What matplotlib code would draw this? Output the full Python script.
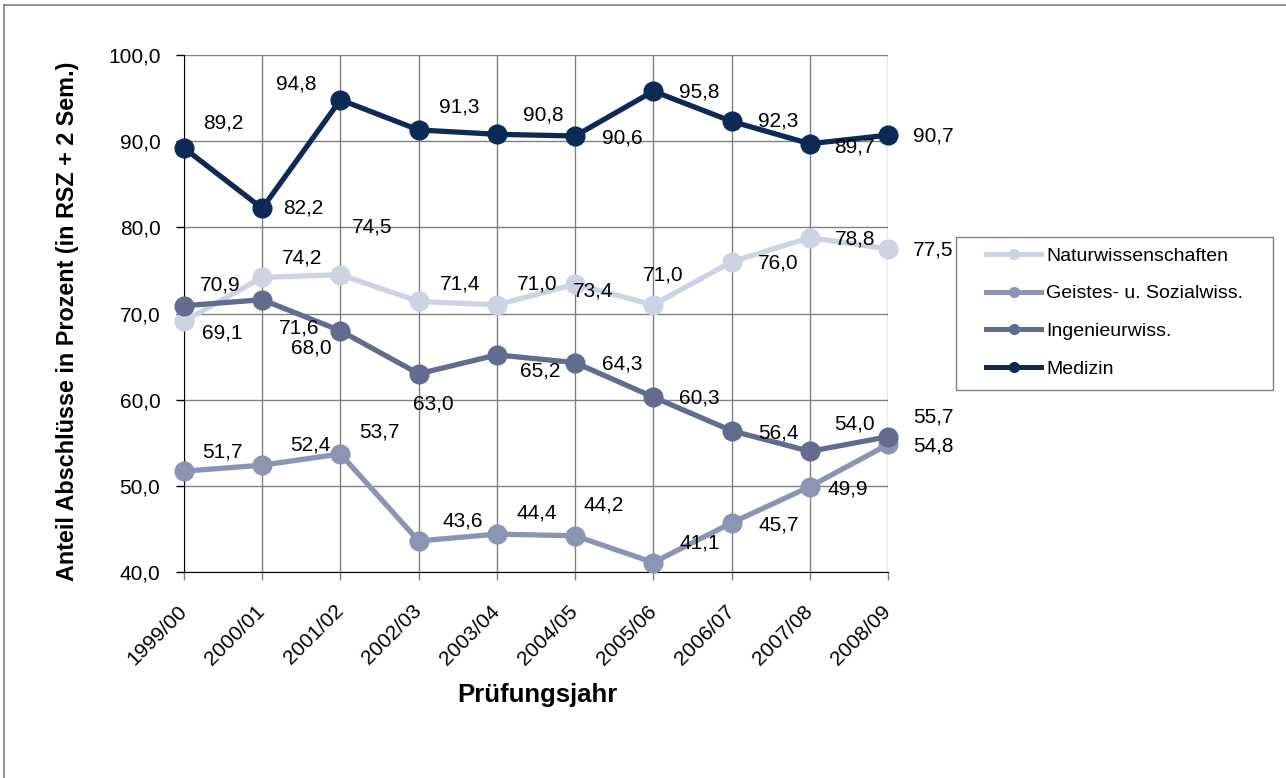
# -*- coding: utf-8 -*-
# Anteil Abschluesse nach Faechergruppen, Pruefungsjahre 1999/00 - 2008/09
import matplotlib
matplotlib.use('Agg')
import matplotlib.pyplot as plt
from matplotlib.lines import Line2D
from matplotlib.patches import Rectangle

# part 1 ---------- Daten ---------- #
years = ['1999/00', '2000/01', '2001/02', '2002/03', '2003/04',
         '2004/05', '2005/06', '2006/07', '2007/08', '2008/09']
natur = [69.1, 74.2, 74.5, 71.4, 71.0, 73.4, 71.0, 76.0, 78.8, 77.5]
geistes = [51.7, 52.4, 53.7, 43.6, 44.4, 44.2, 41.1, 45.7, 49.9, 54.8]
ingenieur = [70.9, 71.6, 68.0, 63.0, 65.2, 64.3, 60.3, 56.4, 54.0, 55.7]
medizin = [89.2, 82.2, 94.8, 91.3, 90.8, 90.6, 95.8, 92.3, 89.7, 90.7]
names = ['Naturwissenschaften', 'Geistes- u. Sozialwiss.', 'Ingenieurwiss.', 'Medizin']
####--------------End PART ONE--------------####

# part 2 ---------- Layout ---------- #
colors = ['#CDD3E3', '#8B95B3', '#636B8F', '#0C2A55']
# label offsets in pixels (dx, dy nach unten), wie im Excel-Original verschoben
off_natur = [(38, 12), (40, -19), (32, -48), (41, -17), (40, -21),
             (18, 7), (10, -30), (47, 1), (45, 1), (45, 1)]
off_geistes = [(38, -19), (48, -20), (39, -22), (44, -20), (40, -21),
               (29, -31), (46, -20), (47, 2), (38, 2), (45, 2)]
off_ing = [(36, -21), (37, 28), (-29, 17), (15, 30), (43, 16),
           (47, 1), (46, 1), (47, 2), (45, -27), (45, -20)]
off_med = [(39, -25), (41, 0), (-44, -16), (41, -23), (46, -19),
           (47, 2), (46, 1), (47, 0), (45, 3), (45, 1)]
W, H = 1286, 778
FS = 15
plt.rcParams['font.family'] = ['Liberation Sans', 'DejaVu Sans']
####--------------End PART TWO--------------####

# part 3 ---------- Plot ---------- #
fig = plt.figure(figsize=(W / 100, H / 100), dpi=100)
ax = fig.add_axes([184 / W, 1 - 572 / H, 704 / W, 517 / H])

x = list(range(len(years)))
series = [natur, geistes, ingenieur, medizin]
offsets = [off_natur, off_geistes, off_ing, off_med]
for vals, col, offs, z in zip(series, colors, offsets, [3, 4, 5, 6]):
    ax.plot(x, vals, color=col, lw=3.8, marker='o', markersize=13.5,
            zorder=z, clip_on=False)
    for xi, v, (dx, dy) in zip(x, vals, offs):
        ax.annotate(('%.1f' % v).replace('.', ','), (xi, v), xytext=(dx, -dy),
                    textcoords='offset pixels', ha='center', va='center',
                    fontsize=FS, color='black', zorder=10, annotation_clip=False)

yt = [40, 50, 60, 70, 80, 90, 100]
ax.set_xlim(0, 9)
ax.set_ylim(40, 100)
ax.set_yticks(yt)
ax.set_yticklabels([('%.1f' % t).replace('.', ',') for t in yt])
ax.set_xticks(x)
ax.set_xticklabels(years, rotation=45, ha='right', va='center', rotation_mode='anchor')
ax.tick_params(axis='y', direction='out', length=6, width=1, labelsize=FS, pad=11)
ax.tick_params(axis='x', direction='out', length=6, width=1, labelsize=FS, pad=20,
               color='#808080')
ax.grid(True, color='#808080', lw=1)
ax.set_axisbelow(True)
for s in ['top', 'right']:
    ax.spines[s].set_visible(False)
ax.spines['left'].set_color('black')
ax.spines['bottom'].set_color('black')
ax.spines['left'].set_zorder(2)
ax.spines['bottom'].set_zorder(2)

fig.text(537 / W, 1 - 702 / H, 'Prüfungsjahr', ha='center', va='baseline',
         fontsize=18.5, fontweight='bold')
fig.text(68 / W, 1 - 321 / H, 'Anteil Abschlüsse in Prozent (in RSZ + 2 Sem.)',
         ha='center', va='center', rotation=90, fontsize=16.8, fontweight='bold')

# legend, Rahmen separat gezeichnet
fig.add_artist(Rectangle((956 / W, 1 - 390 / H), 317 / W, 153 / H, transform=fig.transFigure,
                         fill=False, edgecolor='#808080', lw=1))
handles = [Line2D([], [], color=c, lw=3.6, marker='o', markersize=7) for c in colors]
leg = fig.legend(handles, names, loc='upper left',
                 bbox_to_anchor=(986 / W, 1 - 247 / H),
                 borderaxespad=0, borderpad=0, fontsize=14, frameon=False,
                 handlelength=2.84, handletextpad=0.26, labelspacing=1.04)

# Rahmen (nur oben und links sichtbar)
fig.add_artist(Line2D([4 / W, 1], [1 - 5 / H, 1 - 5 / H], color='#808080', lw=1.2))
fig.add_artist(Line2D([4 / W, 4 / W], [0, 1 - 5 / H], color='#808080', lw=1.2))

fig.savefig('out.png', dpi=100)
####--------------End PART THREE--------------####
